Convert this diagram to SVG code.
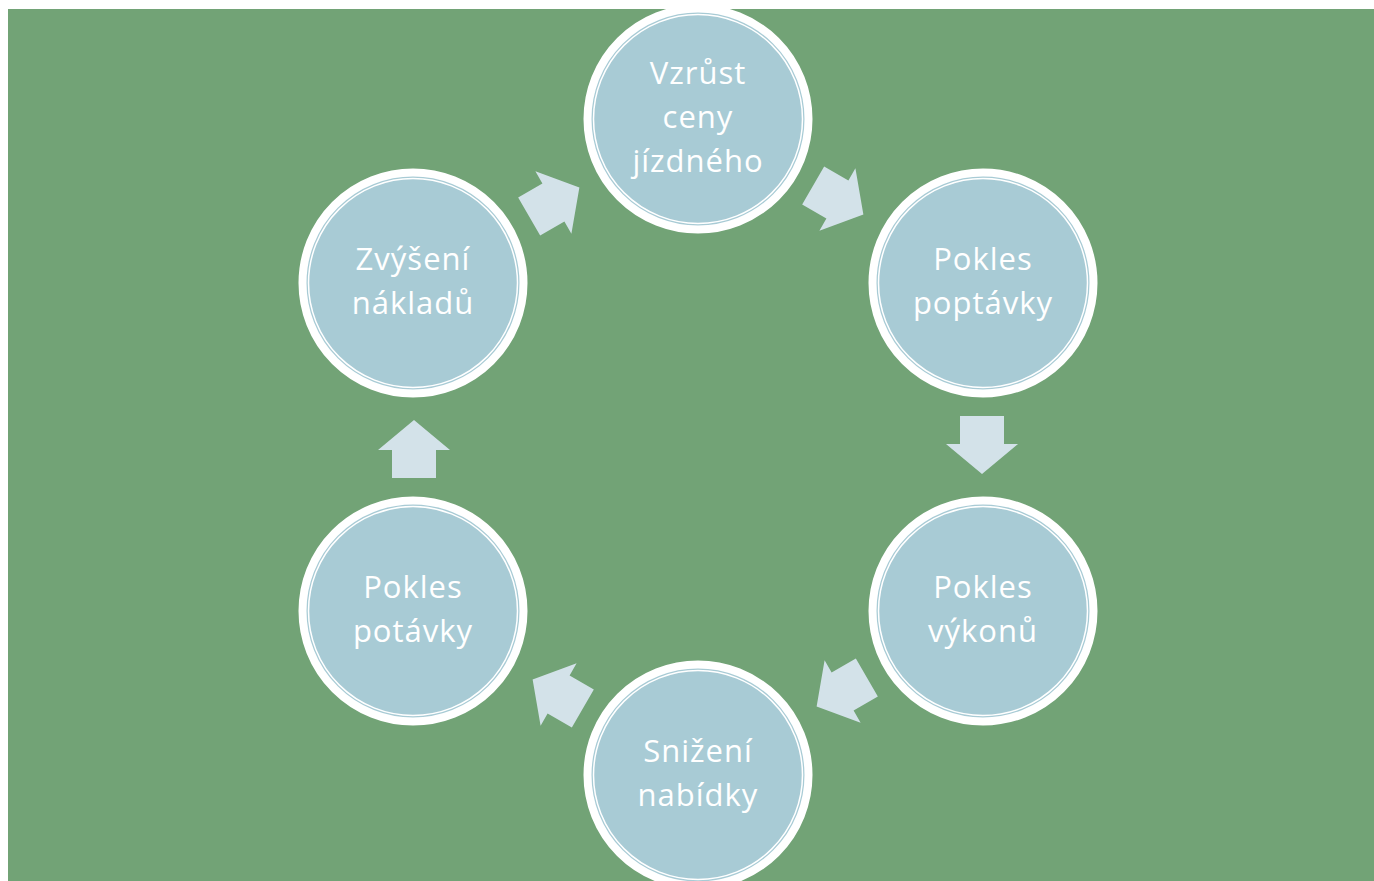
<svg xmlns="http://www.w3.org/2000/svg" width="1374" height="881" viewBox="0 0 1374 881">
<style>
.bg{fill:#72a376}
.node circle.main{fill:#a8cbd5;stroke:#ffffff;stroke-width:8}
.node circle.ring{fill:none;stroke:#ffffff;stroke-width:1.5}
.node text{font-family:"Open Sans","DejaVu Sans",sans-serif;font-size:31px;fill:#ffffff;text-anchor:middle;letter-spacing:1px}
.arrow{fill:#d3e2e9}
</style>
<defs>
<path id="arr" d="M-22,-31 L22,-31 L22,-3 L36,-3 L0,27 L-36,-3 L-22,-3 Z"/>
</defs>
<rect x="0" y="0" width="1374" height="881" fill="#ffffff"/>
<rect class="bg" x="8" y="9" width="1366" height="872"/>
<g id="connectors">
<use href="#arr" class="arrow" transform="translate(698,447) rotate(-60) translate(284,0)"/>
<use href="#arr" class="arrow" transform="translate(698,447) rotate(0) translate(284,0)"/>
<use href="#arr" class="arrow" transform="translate(698,447) rotate(60) translate(284,0)"/>
<use href="#arr" class="arrow" transform="translate(698,447) rotate(120) translate(284,0)"/>
<use href="#arr" class="arrow" transform="translate(698,447) rotate(180) translate(284,0)"/>
<use href="#arr" class="arrow" transform="translate(698,447) rotate(240) translate(284,0)"/>
</g>
<g id="n1" class="node">
<circle class="main" cx="698" cy="119" r="110.5"/>
<circle class="ring" cx="698" cy="119" r="104.5"/>
<text x="698" y="84">Vzrůst</text>
<text x="698" y="128">ceny</text>
<text x="698" y="172">jízdného</text>
</g>
<g id="n2" class="node">
<circle class="main" cx="983" cy="283" r="110.5"/>
<circle class="ring" cx="983" cy="283" r="104.5"/>
<text x="983" y="270">Pokles</text>
<text x="983" y="314">poptávky</text>
</g>
<g id="n3" class="node">
<circle class="main" cx="983" cy="611" r="110.5"/>
<circle class="ring" cx="983" cy="611" r="104.5"/>
<text x="983" y="598">Pokles</text>
<text x="983" y="642">výkonů</text>
</g>
<g id="n4" class="node">
<circle class="main" cx="698" cy="775" r="110.5"/>
<circle class="ring" cx="698" cy="775" r="104.5"/>
<text x="698" y="762">Snižení</text>
<text x="698" y="806">nabídky</text>
</g>
<g id="n5" class="node">
<circle class="main" cx="413" cy="611" r="110.5"/>
<circle class="ring" cx="413" cy="611" r="104.5"/>
<text x="413" y="598">Pokles</text>
<text x="413" y="642">potávky</text>
</g>
<g id="n6" class="node">
<circle class="main" cx="413" cy="283" r="110.5"/>
<circle class="ring" cx="413" cy="283" r="104.5"/>
<text x="413" y="270">Zvýšení</text>
<text x="413" y="314">nákladů</text>
</g>
</svg>
